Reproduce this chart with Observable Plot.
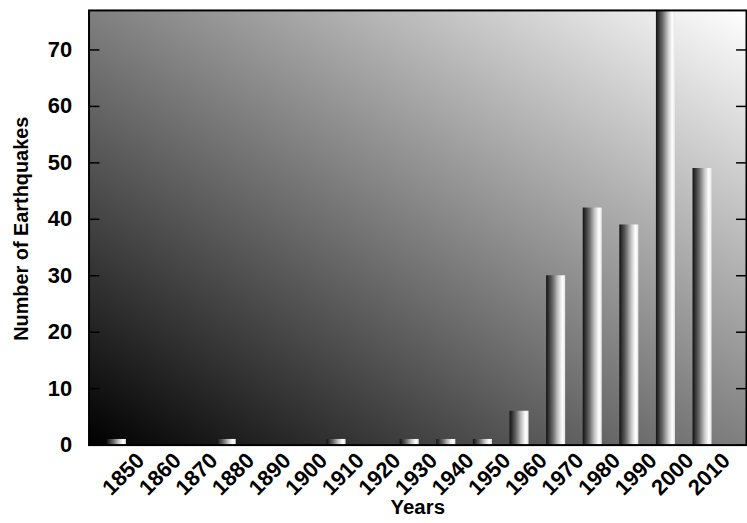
<!DOCTYPE html>
<html><head><meta charset="utf-8">
<script src="https://cdn.jsdelivr.net/npm/d3@7"></script>
<script src="https://cdn.jsdelivr.net/npm/@observablehq/plot@0.6"></script>
<style>html,body{margin:0;padding:0;overflow:hidden;background:#fff}</style>
</head><body><div id="chart"></div>
<script>
const years = [1850,1860,1870,1880,1890,1900,1910,1920,1930,1940,1950,1960,1970,1980,1990,2000,2010];
const counts = [1,0,0,1,0,0,1,0,1,1,1,6,30,42,39,77,49];
const yTicks = [0,10,20,30,40,50,60,70];
const yTitle = "Number of Earthquakes";
const xTitle = "Years";

const data = years.map((y, i) => ({year: y, count: counts[i]}));
const font = "'Liberation Sans', Arial, Helvetica, sans-serif";

const chart = Plot.plot({
  width: 751, height: 523,
  marginTop: 10, marginBottom: 76, marginLeft: 89, marginRight: 1,
  style: {fontFamily: font, fontWeight: "bold", background: "white", color: "black"},
  x: {type: "band", domain: years, range: [98.6, 724.2], paddingInner: 0.48, paddingOuter: 0.24, round: false, axis: null},
  y: {domain: [0, 77]},
  marks: [
    Plot.frame({fill: "url(#bgGrad)"}),
    Plot.barY(data, {x: "year", y: "count", fill: "url(#barGrad)"}),
    Plot.frame({stroke: "black", strokeWidth: 2}),
    Plot.axisY({anchor: "left", ticks: yTicks, tickSize: -11, tickFormat: () => "", strokeWidth: 1.5, label: null}),
    Plot.axisY({anchor: "right", ticks: yTicks, tickSize: -11, tickFormat: () => "", strokeWidth: 1.5, label: null}),
    Plot.axisY({anchor: "left", ticks: yTicks, tickSize: 0, tickPadding: 17, fontSize: 22, label: null}),
    Plot.text(years, {x: d => d, text: d => String(d), frameAnchor: "bottom", rotate: -45, textAnchor: "end", lineAnchor: "middle", dx: 24, dy: 12, fontSize: 22}),
    Plot.text([xTitle], {frameAnchor: "bottom", textAnchor: "middle", lineAnchor: "middle", dy: 63, fontSize: 20.5}),
    Plot.text([yTitle], {frameAnchor: "left", rotate: -90, textAnchor: "middle", lineAnchor: "middle", dx: -68, dy: 1, fontSize: 20})
  ]
});

const svg = chart.tagName.toLowerCase() === "svg" ? chart : chart.querySelector("svg");
d3.select(svg).insert("defs", ":first-child").html(`
  <linearGradient id="bgGrad" x1="0" y1="1" x2="1" y2="0">
    <stop offset="0" stop-color="#000"/>
    <stop offset="1" stop-color="#fff"/>
  </linearGradient>
  <linearGradient id="barGrad" x1="0" y1="0" x2="1" y2="0">
    <stop offset="0" stop-color="#111"/>
    <stop offset="0.35" stop-color="#6a6a6a"/>
    <stop offset="0.62" stop-color="#c4c4c4"/>
    <stop offset="0.85" stop-color="#fff"/>
    <stop offset="1" stop-color="#e6e6e6"/>
  </linearGradient>`);
document.getElementById("chart").appendChild(chart);
</script>
</body></html>
